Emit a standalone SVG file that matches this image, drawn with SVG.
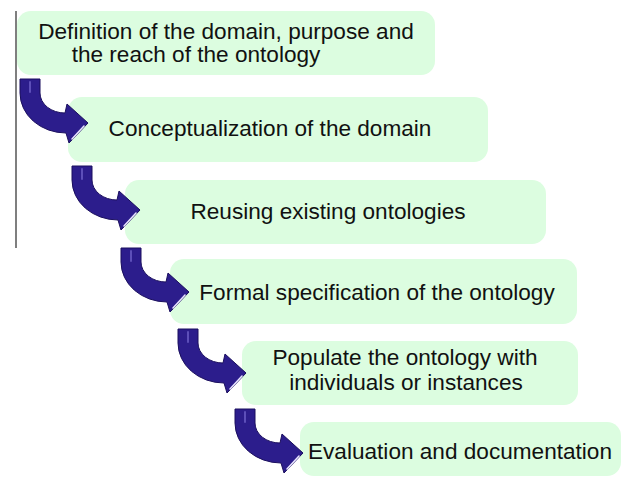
<svg xmlns="http://www.w3.org/2000/svg" width="627" height="477" viewBox="0 0 627 477">
<defs>
<style>
.box{fill:#dcfde0;}
.lbl{font-family:"Liberation Sans",Arial,sans-serif;font-size:22.6px;fill:#111;text-anchor:middle;}
.arr{fill:#2c1d8c;stroke:#1b0f5e;stroke-width:1;}
.hl{fill:none;stroke:#e8e4ff;stroke-width:1.6;stroke-linecap:round;}
.hl2{fill:none;stroke:#6a5cc4;stroke-width:2;stroke-linecap:round;opacity:0.8;}
</style>
<g id="arrow">
<path class="arr" d="M20,79 L40,79 L40,93 A25,20 0 0 0 65,113 L67,104 L88,123 L69,143 L66,133 A46,40 0 0 1 20,93 Z"/>
<path class="hl2" d="M30,82 L30,92"/>
<path class="hl" d="M84,126 L72,139"/>
</g>
</defs>
<rect width="627" height="477" fill="#ffffff"/>
<line x1="16" y1="11" x2="16" y2="248" stroke="#555" stroke-width="1.5"/>
<g id="n1"><rect class="box" x="17" y="11" width="418" height="64" rx="14"/>
<text class="lbl" x="226" y="39">Definition of the domain, purpose and</text>
<text class="lbl" x="196" y="62">the reach of the ontology</text></g>
<g id="n2"><rect class="box" x="68" y="97" width="420" height="65" rx="14"/>
<text class="lbl" x="270" y="136">Conceptualization of the domain</text></g>
<g id="n3"><rect class="box" x="125" y="180" width="421" height="64" rx="14"/>
<text class="lbl" x="328" y="219">Reusing existing ontologies</text></g>
<g id="n4"><rect class="box" x="170" y="259" width="407" height="65" rx="14"/>
<text class="lbl" x="377" y="300">Formal specification of the ontology</text></g>
<g id="n5"><rect class="box" x="242" y="341" width="336" height="64" rx="14"/>
<text class="lbl" x="405" y="365">Populate the ontology with</text>
<text class="lbl" x="406" y="390">individuals or instances</text></g>
<g id="n6"><rect class="box" x="300" y="422" width="321" height="54" rx="14"/>
<text class="lbl" x="460" y="459">Evaluation and documentation</text></g>
<g id="connectors">
<use href="#arrow"/>
<use href="#arrow" transform="translate(52,87)"/>
<use href="#arrow" transform="translate(101,169)"/>
<use href="#arrow" transform="translate(158,250)"/>
<use href="#arrow" transform="translate(215,330)"/>
</g>
</svg>
